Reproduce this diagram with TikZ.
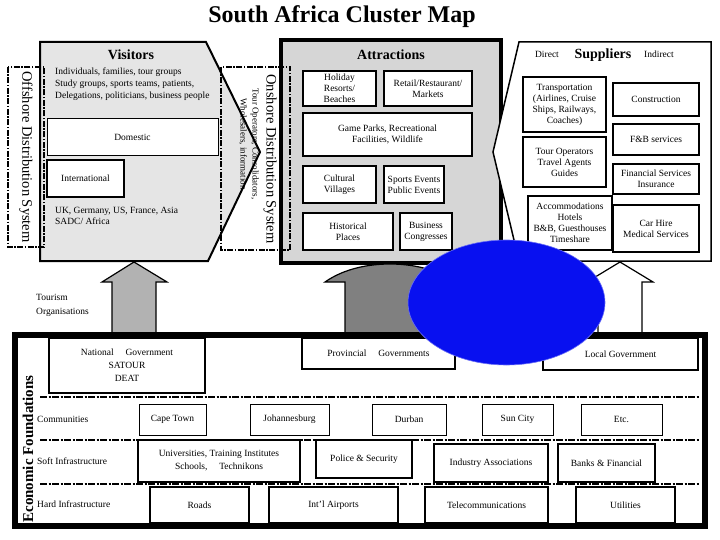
\documentclass[tikz,border=0pt]{standalone}
\usepackage{fontspec}
\setmainfont{Liberation Serif}
\usetikzlibrary{shapes.geometric,positioning,calc}

\definecolor{visitgray}{RGB}{229,229,229}
\definecolor{attrgray}{RGB}{214,214,214}
\definecolor{arrowgray}{RGB}{178,178,178}
\definecolor{darkarrow}{RGB}{128,128,128}
\definecolor{hubblue}{RGB}{8,16,240}

\begin{document}
\begin{tikzpicture}[
    x=1pt, y=-1pt,
    font=\fontsize{9.5}{11}\selectfont,
    % --- STYLES ---
    cell/.style={
        rectangle, draw=black, fill=white,
        line width=1pt, inner sep=1pt,
        align=center
    },
    thickcell/.style={cell, line width=2.4pt},
    heading/.style={font=\fontsize{14}{15}\selectfont\bfseries},
    rowlabel/.style={anchor=west, inner sep=0pt},
    distbox/.style={draw=black, line width=1.5pt,
        dash pattern=on 6pt off 1.5pt on 1.5pt off 1.5pt},
    rowline/.style={draw=black, line width=1.8pt,
        dash pattern=on 7pt off 1.5pt on 2pt off 1.5pt},
    blockarrow/.style={draw=black, line width=1.2pt, line join=miter}
]
\useasboundingbox (0,0) rectangle (720,540);

% ===== 1. TITLE =====
\node[font=\fontsize{24}{26}\selectfont\bfseries] (title) at (342,17) {South Africa Cluster Map};

% ===== 2. VISITORS =====
\draw[fill=visitgray, line width=2pt, line join=miter]
    (40,42) -- (206,42) -- (260,152) -- (208,261) -- (40,261) -- cycle;
\node[heading] (visitors) at (131,55) {Visitors};
\node[anchor=north west, align=left, inner sep=0pt,
      font=\fontsize{9.5}{12}\selectfont] (visitlist) at (55,68)
    {Individuals, families, tour groups\\
     Study groups, sports teams, patients,\\
     Delegations, politicians, business people};
\node[cell, minimum width=171, minimum height=37] (domestic) at (132.5,137.5) {Domestic};
\node[cell, line width=2pt, minimum width=77, minimum height=37] (intl) at (85.5,178.5) {International};
\node[anchor=north west, align=left, inner sep=0pt] (markets) at (55,207)
    {UK, Germany, US, France, Asia\\ SADC/ Africa};

% ===== 3. ATTRACTIONS =====
\node[draw=black, fill=attrgray, line width=4pt,
      minimum width=220, minimum height=223] (attractions) at (391,151.5) {};
\node[heading] (attrtitle) at (391,55) {Attractions};
\node[thickcell, minimum width=73, minimum height=35] (holiday) at (339.5,88.5) {Holiday\\ Resorts/\\ Beaches};
\node[thickcell, minimum width=88, minimum height=35] (retail) at (428,88.5) {Retail/Restaurant/\\ Markets};
\node[thickcell, minimum width=169, minimum height=43] (game) at (387.5,134.5) {Game Parks, Recreational\\ Facilities, Wildlife};
\node[thickcell, minimum width=73, minimum height=37] (cultural) at (339.5,184.5) {Cultural\\ Villages};
\node[thickcell, minimum width=60, minimum height=37] (events) at (414,184.5) {Sports Events\\ Public Events};
\node[thickcell, minimum width=90, minimum height=37] (historical) at (348,231.5) {Historical\\ Places};
\node[thickcell, minimum width=52, minimum height=37] (business) at (426,231.5) {Business\\ Congresses};

% ===== 4. SUPPLIERS =====
\draw[fill=white, line width=1.5pt, line join=miter]
    (519,42) -- (711,42) -- (711,261) -- (519,261) -- (493,152) -- cycle;
\node (direct) at (547,54) {Direct};
\node[heading] (suppliers) at (603,55) {Suppliers};
\node (indirect) at (659,54) {Indirect};
\node[thickcell, minimum width=83, minimum height=55] (transport) at (564.5,104.5)
    {Transportation\\ (Airlines, Cruise\\ Ships, Railways,\\ Coaches)};
\node[thickcell, minimum width=83, minimum height=50] (tourops) at (564.5,162)
    {Tour Operators\\ Travel Agents\\ Guides};
\node[thickcell, minimum width=84, minimum height=54] (accom) at (570,223)
    {Accommodations\\ Hotels\\ B\&B, Guesthouses\\ Timeshare};
\node[thickcell, minimum width=86, minimum height=33] (construct) at (656,99.5) {Construction};
\node[thickcell, minimum width=86, minimum height=31] (fandb) at (656,139.5) {F\&B services};
\node[thickcell, minimum width=86, minimum height=30] (finance) at (656,179) {Financial Services\\ Insurance};
\node[thickcell, minimum width=86, minimum height=47] (carhire) at (656,228.5) {Car Hire\\ Medical Services};

% ===== 5. DISTRIBUTION SYSTEMS =====
\draw[distbox] (8,67) rectangle (44,247);
\node[rotate=-90, font=\fontsize{14.5}{15}\selectfont] (offshore) at (26,157) {Offshore Distribution System};
\draw[distbox] (221,67) rectangle (290,250);
\node[rotate=-90, font=\fontsize{14.5}{15}\selectfont] (onshore) at (270,159) {Onshore Distribution System};
\node[rotate=-90, align=center, font=\fontsize{9}{12}\selectfont] (agents) at (249,144)
    {Tour Operators, Consolidators,\\ Wholesalers, information};

% ===== 6. BLOCK ARROWS =====
\draw[blockarrow, fill=arrowgray]
    (112,333) -- (112,282) -- (102,282) -- (134,262) -- (167,282) -- (156,282) -- (156,333);
\draw[blockarrow, fill=darkarrow]
    (345,333) -- (345,282) -- (325,282) .. controls (345,268) and (370,264) .. (390,264)
    .. controls (410,264) and (435,268) .. (455,282) -- (435,282) -- (435,333);
\draw[blockarrow, fill=white]
    (598,333) -- (598,282) -- (587,282) -- (620,262) -- (653,282) -- (642,282) -- (642,333);
\node[anchor=north west, align=left, inner sep=0pt,
      font=\fontsize{9.5}{14}\selectfont] (tourorg) at (36,294) {Tourism\\ Organisations};

% ===== 7. ECONOMIC FOUNDATIONS =====
\draw[line width=6pt, fill=white] (15,335) rectangle (705,526);
\node[rotate=90, font=\fontsize{15}{16}\selectfont\bfseries] (econ) at (28,449) {Economic Foundations};

\node[cell, line width=1.5pt, minimum width=156, minimum height=55] (natgov) at (127,365.5)
    {National \quad Government\\[2pt] SATOUR\\[2pt] DEAT};
\node[cell, line width=1.5pt, minimum width=153, minimum height=31] (provgov) at (378.5,353.5)
    {Provincial \quad Governments};
\node[cell, line width=1.5pt, minimum width=155, minimum height=32] (localgov) at (620.5,354)
    {Local Government};

\draw[rowline] (40,397) -- (700,397);
\draw[rowline] (40,440) -- (700,440);
\draw[rowline] (40,484) -- (700,484);

% -- Communities --
\node[rowlabel] (communities) at (37,419) {Communities};
\node[cell, minimum width=67, minimum height=31] (capetown) at (172.5,419.5) {Cape Town};
\node[cell, minimum width=79, minimum height=31] (joburg) at (289.5,419.5) {Johannesburg};
\node[cell, minimum width=74, minimum height=31] (durban) at (409,419.5) {Durban};
\node[cell, minimum width=71, minimum height=31] (suncity) at (517.5,419.5) {Sun City};
\node[cell, minimum width=81, minimum height=31] (etc) at (621.5,419.5) {Etc.};

% -- Soft infrastructure --
\node[rowlabel] (soft) at (37,461) {Soft Infrastructure};
\node[thickcell, minimum width=162, minimum height=42] (univ) at (219,461)
    {Universities, Training Institutes\\[2pt] Schools, \quad Technikons};
\node[cell, line width=1.5pt, minimum width=96, minimum height=38] (police) at (364,459) {Police \& Security};
\node[thickcell, minimum width=114, minimum height=38] (industry) at (491,463) {Industry Associations};
\node[thickcell, minimum width=97, minimum height=38] (banks) at (606.5,463) {Banks \& Financial};

% -- Hard infrastructure --
\node[rowlabel] (hard) at (37,504) {Hard Infrastructure};
\node[cell, line width=1.5pt, minimum width=99, minimum height=36] (roads) at (199.5,505) {Roads};
\node[cell, line width=1.5pt, minimum width=129, minimum height=36] (airports) at (333.5,505) {Int'l Airports};
\node[thickcell, minimum width=123, minimum height=36] (telecom) at (486.5,505) {Telecommunications};
\node[cell, line width=1.5pt, minimum width=99, minimum height=36] (utilities) at (625.5,505) {Utilities};

% ===== 8. HUB =====
\node[ellipse, fill=hubblue, draw=hubblue!60!white, line width=0.6pt,
      minimum width=197, minimum height=125] (hub) at (506.5,302.5) {};

\end{tikzpicture}
\end{document}
